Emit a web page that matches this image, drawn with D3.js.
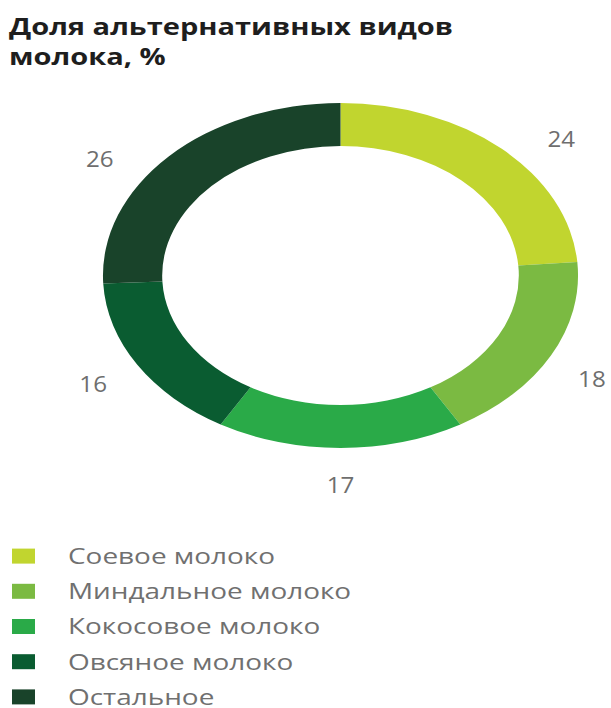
<!DOCTYPE html>
<html>
<head>
<meta charset="utf-8">
<script src="https://cdn.jsdelivr.net/npm/d3@7"></script>
<style>
  body { margin: 0; background: #fff; }
  text { font-family: "Open Sans", "DejaVu Sans", sans-serif; }
</style>
</head>
<body>
<svg id="chart" width="611" height="708"></svg>
<script>
// data
let titleLines = ["Доля альтернативных видов", "молока, %"];
let categories = ["Соевое молоко", "Миндальное молоко", "Кокосовое молоко", "Овсяное молоко", "Остальное"];
let values = [24, 18, 17, 16, 26];
let colors = ["#c1d52f", "#7bba42", "#2aaa48", "#0a5c31", "#19432a"];

let svg = d3.select("#chart");
let width = +svg.attr("width");
let height = +svg.attr("height");

svg.append("rect").attr("width", width).attr("height", height).attr("fill", "#fff");

// the picture is stretched sideways, so the ring and text are too
let cx = 340.5, cy = 275.5;
let stretch = 1.377;
let outerR = 172.5, innerR = 129.5, labelR = 210;
// small angle tweaks (degrees) so labels sit where the original put them
let labelNudge = [7, 2, 0, 0, -10];

// title
let title = svg.append("g");
titleLines.forEach(function (line, i) {
    title.append("g")
        .attr("transform", "translate(9," + (35 + i * 30) + ") scale(1.21,1)")
        .append("text")
        .attr("font-size", 24)
        .attr("font-weight", 700)
        .attr("fill", "#1e1e1e")
        .text(line);
});

let pie = d3.pie().sort(null).value(function (d) { return d; });
let arcs = pie(values);
let arc = d3.arc().innerRadius(innerR).outerRadius(outerR);

let ring = svg.append("g")
    .attr("transform", "translate(" + cx + "," + cy + ") scale(" + stretch + ",1)");

ring.selectAll("path")
    .data(arcs)
    .enter().append("path")
    .attr("d", arc)
    .attr("fill", function (d, i) { return colors[i]; });

// value labels
svg.selectAll(".val")
    .data(arcs)
    .enter().append("g")
    .attr("class", "val")
    .attr("transform", function (d, i) {
        let a = (d.startAngle + d.endAngle) / 2 + labelNudge[i] * Math.PI / 180;
        let x = cx + Math.sin(a) * labelR * stretch;
        let y = cy - Math.cos(a) * labelR;
        return "translate(" + x + "," + y + ") scale(1.15,1)";
    })
    .append("text")
    .attr("text-anchor", "middle")
    .attr("dy", "0.36em")
    .attr("font-size", 21)
    .attr("fill", "#6e6e6e")
    .text(function (d) { return d.value; });

// legend
let legendY = d3.scaleBand().domain(categories).range([538.5, 714.5]);

let legend = svg.selectAll(".legend")
    .data(categories)
    .enter().append("g")
    .attr("class", "legend")
    .attr("transform", function (d) {
        return "translate(0," + (legendY(d) + legendY.bandwidth() / 2) + ")";
    });

legend.append("rect")
    .attr("x", 12)
    .attr("y", -7.5)
    .attr("width", 23)
    .attr("height", 15)
    .attr("fill", function (d, i) { return colors[i]; });

legend.append("g")
    .attr("transform", "translate(68,0) scale(1.27,1)")
    .append("text")
    .attr("dy", "0.36em")
    .attr("font-size", 22)
    .attr("fill", "#707070")
    .text(function (d) { return d; });
</script>
</body>
</html>
